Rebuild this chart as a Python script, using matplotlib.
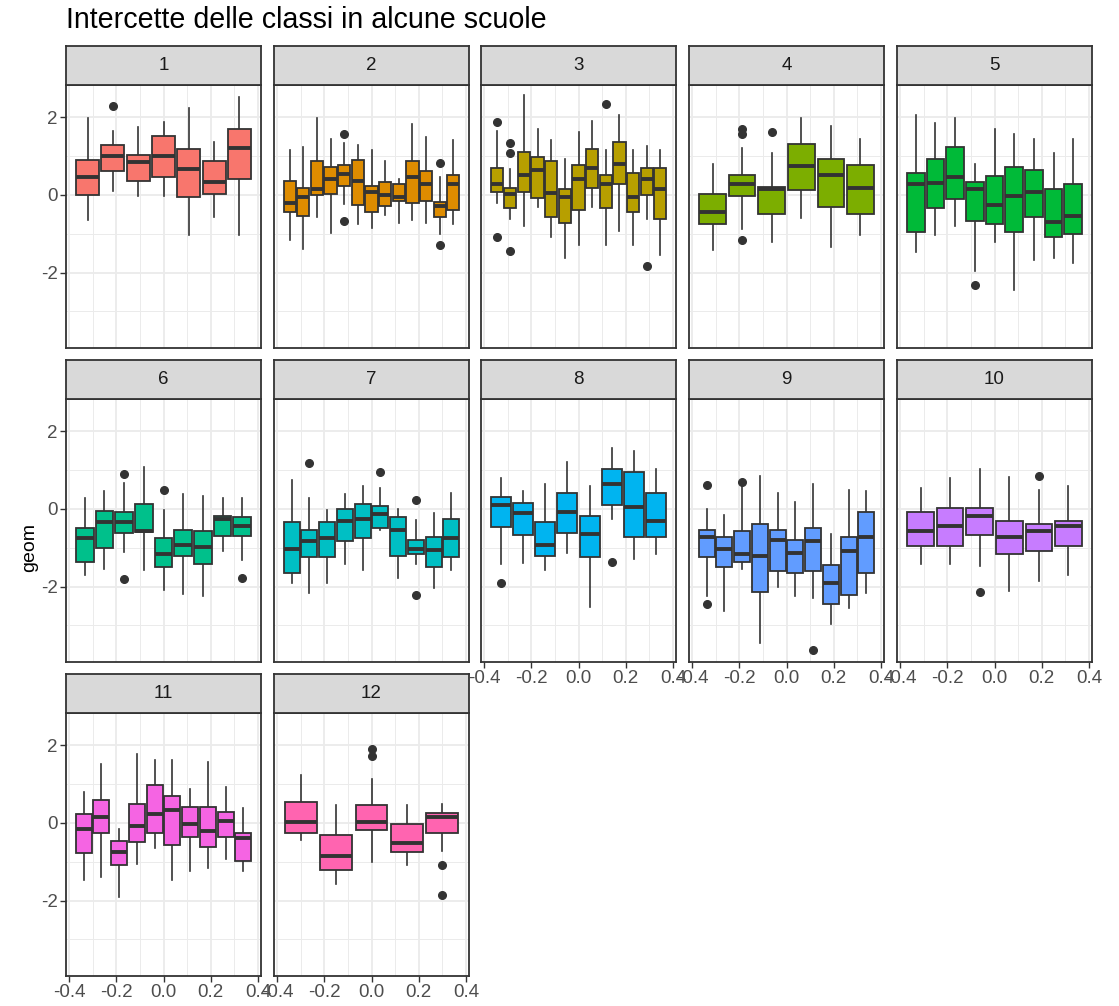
import numpy as np
import matplotlib.pyplot as plt

plt.rcParams['font.family'] = ['Liberation Sans', 'DejaVu Sans']

scuole = [str(i) for i in range(1, 13)]
colori = ['#F8766D', '#DE8C00', '#B79F00', '#7CAE00', '#00BA38', '#00C08B',
          '#00BFC4', '#00B4F0', '#619CFF', '#C77CFF', '#F564E3', '#FF64B0']

# statistiche dei boxplot, una lista per scuola (una voce per classe)
baffo_basso = [
    [-0.64, 0.11, -0.02, -0.02, -1.04, -0.56, -1.04],
    [-1.17, -1.39, -0.56, -0.97, -0.23, -0.76, -0.85, -0.51, -0.73, -0.64, -0.73, -1.01, -0.75],
    [-0.22, -0.63, -0.80, -0.31, -1.09, -1.63, -1.29, -0.31, -1.29, -0.93, -1.29, -0.63, -1.54],
    [-1.42, -0.88, -1.22, -0.59, -1.33, -1.04],
    [-1.46, -1.04, -0.80, -1.96, -1.22, -2.44, -1.67, -1.63, -1.75],
    [-1.71, -1.54, -1.12, -1.58, -2.08, -2.20, -2.24, -1.08, -1.32],
    [-1.91, -2.16, -1.91, -1.42, -1.58, -0.54, -1.79, -1.42, -2.03, -1.58],
    [-1.42, -1.38, -1.58, -1.13, -2.52, -0.26, -1.29, -1.17],
    [-2.25, -2.62, -1.54, -3.46, -2.00, -2.24, -2.28, -2.97, -2.56, -2.16],
    [-1.41, -1.41, -1.46, -2.11, -1.86, -1.71],
    [-1.46, -1.38, -1.91, -1.05, -0.64, -1.46, -1.25, -1.17, -0.93, -1.24],
    [-0.43, -1.58, -1.01, -1.09, -0.71],
]
q1 = [
    [-0.01, 0.62, 0.37, 0.45, -0.05, 0.03, 0.40],
    [-0.45, -0.54, -0.01, 0.03, 0.24, -0.26, -0.45, -0.29, -0.15, -0.21, -0.15, -0.58, -0.38],
    [0.08, -0.33, 0.08, -0.09, -0.57, -0.71, -0.39, 0.17, -0.33, 0.29, -0.45, -0.01, -0.62],
    [-0.75, -0.04, -0.50, 0.12, -0.30, -0.50],
    [-0.96, -0.33, -0.11, -0.67, -0.75, -0.96, -0.57, -1.07, -1.00],
    [-1.36, -1.00, -0.62, -0.59, -1.49, -1.21, -1.41, -0.69, -0.69],
    [-1.65, -1.25, -1.25, -0.82, -0.75, -0.50, -1.21, -1.17, -1.49, -1.25],
    [-0.46, -0.67, -1.21, -0.61, -1.24, 0.09, -0.71, -0.71],
    [-1.25, -1.50, -1.36, -2.15, -1.61, -1.66, -1.61, -2.44, -2.22, -1.65],
    [-0.96, -0.96, -0.67, -1.15, -1.07, -0.96],
    [-0.78, -0.25, -1.08, -0.50, -0.25, -0.58, -0.37, -0.61, -0.37, -0.99],
    [-0.26, -1.21, -0.17, -0.75, -0.26],
]
mediana = [
    [0.47, 1.01, 0.85, 1.00, 0.68, 0.34, 1.22],
    [-0.21, -0.06, 0.15, 0.40, 0.55, 0.37, 0.08, -0.01, -0.06, 0.47, 0.27, -0.28, 0.27],
    [0.27, 0.02, 0.52, 0.64, 0.04, -0.06, 0.40, 0.69, 0.27, 0.80, -0.06, 0.40, 0.15],
    [-0.44, 0.27, 0.16, 0.75, 0.51, 0.19],
    [0.27, 0.30, 0.47, 0.15, -0.27, -0.02, 0.07, -0.69, -0.55],
    [-0.76, -0.34, -0.34, -0.56, -1.17, -0.94, -0.97, -0.25, -0.43],
    [-1.04, -0.83, -0.75, -0.32, -0.26, -0.13, -0.55, -1.04, -1.06, -0.75],
    [0.11, -0.11, -0.92, -0.09, -0.64, 0.64, 0.06, -0.32],
    [-0.73, -1.04, -1.17, -1.21, -0.79, -1.13, -0.83, -1.91, -1.08, -0.73],
    [-0.58, -0.44, -0.19, -0.73, -0.58, -0.44],
    [-0.15, 0.15, -0.76, -0.09, 0.23, 0.34, -0.02, -0.22, 0.05, -0.39],
    [0.03, -0.86, 0.02, -0.52, 0.15],
]
q3 = [
    [0.90, 1.28, 1.03, 1.52, 1.19, 0.87, 1.69],
    [0.37, 0.19, 0.87, 0.73, 0.77, 0.90, 0.23, 0.33, 0.27, 0.87, 0.62, -0.18, 0.52],
    [0.70, 0.19, 1.11, 0.98, 0.87, 0.15, 0.77, 1.19, 0.51, 1.36, 0.57, 0.69, 0.69],
    [0.03, 0.52, 0.20, 1.32, 0.93, 0.77],
    [0.57, 0.93, 1.23, 0.33, 0.48, 0.73, 0.65, 0.16, 0.27],
    [-0.50, -0.05, -0.09, 0.12, -0.75, -0.54, -0.58, -0.17, -0.21],
    [-0.33, -0.54, -0.33, 0.00, 0.12, 0.08, -0.21, -0.79, -0.71, -0.26],
    [0.32, 0.15, -0.33, 0.41, -0.17, 1.03, 0.94, 0.40],
    [-0.54, -0.73, -0.58, -0.38, -0.54, -0.79, -0.50, -1.45, -0.71, -0.09],
    [-0.09, 0.03, 0.03, -0.30, -0.38, -0.30],
    [0.23, 0.58, -0.47, 0.49, 0.98, 0.70, 0.40, 0.40, 0.28, -0.26],
    [0.53, -0.30, 0.45, -0.04, 0.25],
]
baffo_alto = [
    [1.99, 1.65, 1.74, 1.87, 2.23, 1.37, 2.53],
    [1.16, 1.24, 1.99, 1.45, 1.33, 1.28, 1.16, 0.88, 0.42, 1.82, 1.50, 0.46, 1.41],
    [1.65, 0.68, 2.57, 1.70, 1.41, 0.92, 1.61, 1.91, 1.16, 2.07, 1.16, 1.25, 1.16],
    [0.79, 1.21, 1.09, 1.99, 1.78, 1.45],
    [2.07, 1.86, 1.99, 0.79, 1.70, 1.58, 1.45, 1.08, 1.45],
    [0.29, 0.45, 0.66, 1.08, -0.03, 0.38, 0.34, 0.29, 0.29],
    [0.74, 0.29, -0.03, 0.38, 0.58, 0.54, 0.01, -0.29, -0.11, 0.42],
    [0.79, 0.45, 0.63, 1.20, 0.58, 1.56, 1.48, 1.03],
    [0.01, -0.16, 0.62, 0.84, 0.42, 0.18, 0.63, -0.64, 0.50, 0.45],
    [0.54, 0.79, 1.03, 0.83, 0.50, 0.58],
    [0.79, 1.53, -0.16, 1.78, 1.61, 1.61, 0.88, 1.58, 0.92, 0.38],
    [1.24, 0.46, 1.12, 0.46, 0.50],
]
# outlier: scuola, classe (da 1), valore
out_scuola = [1, 2, 2, 2, 2, 3, 3, 3, 3, 3, 3, 3, 4, 4, 4, 4, 5,
              6, 6, 6, 6, 7, 7, 7, 7, 8, 8, 9, 9, 9, 9, 10, 10, 12, 12, 12, 12]
out_classe = [2, 5, 5, 12, 12, 1, 1, 2, 2, 2, 9, 12, 2, 2, 2, 3, 4,
              3, 3, 5, 9, 2, 6, 8, 8, 1, 6, 1, 1, 3, 7, 3, 5, 3, 3, 5, 5]
out_valore = [2.30, 1.57, -0.66, 0.83, -1.28, 1.89, -1.07, 1.33, 1.08, -1.44, 2.35, -1.82,
              1.69, 1.57, -1.16, 1.61, -2.31, 0.91, -1.81, 0.49, -1.77, 1.19, 0.94, 0.24, -2.22,
              -1.90, -1.37, 0.62, -2.44, 0.69, -3.62, -2.15, 0.86, 1.91, 1.73, -1.07, -1.86]

W, H = 1119, 1006
fig = plt.figure(figsize=(W / 100, H / 100), dpi=100)

col_left = [66, 274, 481, 689, 897]
row_top = [85, 399, 713]
pw, ph, sh = 195, 263, 39


def box(l, t, w, h):
    return [l / W, 1 - (t + h) / H, w / W, h / H]


for k in range(12):
    r, c = divmod(k, 5)
    ax = fig.add_axes(box(col_left[c], row_top[r], pw, ph))
    n = len(mediana[k])
    slot = 0.75 / n
    pos = -0.375 + slot * (np.arange(n) + 0.5)
    stats = []
    for i in range(n):
        fl = [v for s, cl, v in zip(out_scuola, out_classe, out_valore) if s == k + 1 and cl == i + 1]
        stats.append(dict(med=mediana[k][i], q1=q1[k][i], q3=q3[k][i],
                          whislo=baffo_basso[k][i], whishi=baffo_alto[k][i], fliers=fl))
    bp = ax.bxp(stats, positions=pos, widths=slot * 0.9, patch_artist=True, showcaps=False,
                manage_ticks=False,
                boxprops=dict(facecolor=colori[k], edgecolor='#333333', linewidth=1.3),
                medianprops=dict(color='#333333', linewidth=2.8, solid_capstyle='butt'),
                whiskerprops=dict(color='#333333', linewidth=1.2),
                flierprops=dict(marker='o', markerfacecolor='#333333', markeredgecolor='#333333',
                                markersize=5.5))
    for b in bp['boxes']:
        b.set_zorder(3)
    for m in bp['medians']:
        m.set_zorder(4)

    ax.set_xlim(-0.4125, 0.4125)
    ax.set_ylim(-3.94, 2.83)
    ax.set_xticks([-0.4, -0.2, 0.0, 0.2, 0.4])
    ax.set_xticks([-0.3, -0.1, 0.1, 0.3], minor=True)
    ax.set_yticks([-2, 0, 2])
    ax.set_yticks([-3, -1, 1], minor=True)
    ax.grid(which='major', color='#EBEBEB', linewidth=1.3, zorder=0)
    ax.grid(which='minor', color='#EBEBEB', linewidth=0.7, zorder=0)
    ax.set_axisbelow(True)
    for sp in ax.spines.values():
        sp.set_color('#333333')
        sp.set_linewidth(1.3)
    ax.tick_params(which='minor', length=0)
    ax.tick_params(which='major', length=4, width=1.0, color='#333333',
                   labelcolor='#4D4D4D', labelsize=13.5, pad=2)

    bottom = (r == 2) or (r == 1 and c >= 2)
    ax.set_xticklabels(['-0.4', '-0.2', '0.0', '0.2', '0.4'] if bottom else [])
    if not bottom:
        ax.tick_params(axis='x', which='major', length=0)
    if c == 0:
        ax.set_yticklabels(['-2', '0', '2'])
    else:
        ax.set_yticklabels([])
        ax.tick_params(axis='y', which='major', length=0)

    sx = fig.add_axes(box(col_left[c], row_top[r] - sh, pw, sh))
    sx.set_facecolor('#D9D9D9')
    sx.set_xticks([])
    sx.set_yticks([])
    for sp in sx.spines.values():
        sp.set_color('#333333')
        sp.set_linewidth(1.3)
    sx.text(0.5, 0.5, scuole[k], ha='center', va='center', fontsize=13.5, color='#1A1A1A',
            transform=sx.transAxes)

fig.text(66 / W, 1 - 20 / H, 'Intercette delle classi in alcune scuole', ha='left', va='center',
         fontsize=20.6, color='black')
fig.text(30 / W, 1 - 548 / H, 'geom', ha='center', va='center', rotation=90, fontsize=14,
         color='black')

fig.savefig('out.png', dpi=100)
